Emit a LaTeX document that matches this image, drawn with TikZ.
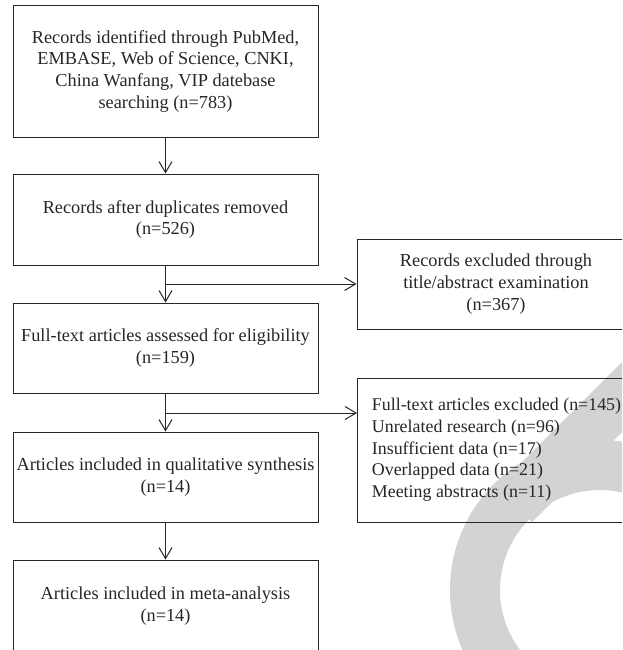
\documentclass[tikz,border=0pt]{standalone}
\usepackage{fontspec}
\setmainfont{Liberation Serif}
\usetikzlibrary{arrows.meta}
\definecolor{wm}{RGB}{211,211,211}
\definecolor{ink}{RGB}{38,38,38}
\begin{document}
\begin{tikzpicture}[x=1pt,y=-1pt,
  box/.style={draw=ink, line width=1pt, rectangle, inner sep=0pt, text=ink,
    font=\fontsize{18.3}{21.7}\selectfont, align=center},
  arr/.style={draw=ink, line width=1pt,
    -{Straight Barb[length=11pt,width=13pt,line width=1pt]}}]
\useasboundingbox (0,0) rectangle (622,650);
\clip (0,0) rectangle (622,650);
% watermark
\fill[wm,even odd rule] (600,590) circle[radius=150pt] (600,590) circle[radius=100pt];
\fill[wm] (640,344) -- (640,414) -- (532,522) -- (497,487) -- cycle;
% boxes
\node[box, minimum width=305pt, minimum height=131pt] (b1) at (165.5,71.5)
  {\raisebox{6.5pt}{\begin{tabular}{@{}c@{}}Records identified through PubMed,\\EMBASE, Web of Science, CNKI,\\China Wanfang, VIP datebase\\searching (n=783)\end{tabular}}};
\node[box, minimum width=305pt, minimum height=91pt] (b2) at (165.5,219.5)
  {Records after duplicates removed\\(n=526)};
\node[box, minimum width=278pt, minimum height=90pt] (b3) at (496,284)
  {Records excluded through\\title/abstract examination\\(n=367)};
\node[box, minimum width=305pt, minimum height=90pt] (b4) at (165.5,348)
  {Full-text articles assessed for eligibility\\(n=159)};
\node[box, minimum width=278pt, minimum height=144pt, align=left,
  inner xsep=10pt, anchor=west, font=\fontsize{17.9}{21.7}\selectfont] (b5) at (357,450)
  {Full-text articles excluded (n=145)\\Unrelated research (n=96)\\Insufficient data (n=17)\\Overlapped data (n=21)\\Meeting abstracts (n=11)};
\node[box, minimum width=305pt, minimum height=90pt] (b6) at (165.5,477)
  {Articles included in qualitative synthesis\\(n=14)};
\node[box, minimum width=305pt, minimum height=92pt] (b7) at (165.5,606)
  {Articles included in meta-analysis\\(n=14)};
% connectors
\coordinate (j1) at (b2.south |- b3.west);
\coordinate (j2) at (165.5,413);
\draw[arr] (b1.south) -- (b2.north);
\draw[arr] (b2.south) -- (b4.north);
\draw[arr] (j1) -- (b3.west);
\draw[arr] (b4.south) -- (b6.north);
\draw[arr] (j2) -- (j2 -| b5.west);
\draw[arr] (b6.south) -- (b7.north);
\end{tikzpicture}
\end{document}
